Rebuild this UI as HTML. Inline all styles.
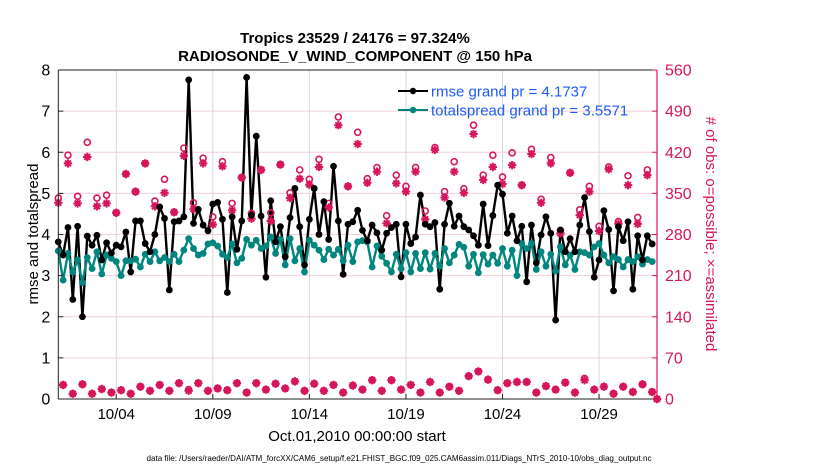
<!DOCTYPE html>
<html><head><meta charset="utf-8">
<style>
html,body{margin:0;padding:0;background:#fff;}
svg{display:block;font-family:"Liberation Sans",Arial,sans-serif;}
</style></head>
<body>
<svg id="chart" width="830" height="470" viewBox="0 0 830 470" xmlns="http://www.w3.org/2000/svg">
<text x="355" y="43" text-anchor="middle" font-size="15" font-weight="bold">Tropics 23529 / 24176 = 97.324%</text>
<text x="355" y="61" text-anchor="middle" font-size="15" font-weight="bold">RADIOSONDE_V_WIND_COMPONENT @ 150 hPa</text>
<g id="grid"></g>
<g id="series"></g>
<g id="axes"></g>
<text transform="translate(38,234) rotate(-90)" text-anchor="middle" font-size="15">rmse and totalspread</text>
<text transform="translate(706,234) rotate(90)" text-anchor="middle" font-size="15" fill="#d6165c"># of obs: o=possible; ×=assimilated</text>
<text x="357" y="441" text-anchor="middle" font-size="15">Oct.01,2010 00:00:00 start</text>
<text x="399" y="461" text-anchor="middle" font-size="8.4" textLength="505" lengthAdjust="spacingAndGlyphs">data file: /Users/raeder/DAI/ATM_forcXX/CAM6_setup/f.e21.FHIST_BGC.f09_025.CAM6assim.011/Diags_NTrS_2010-10/obs_diag_output.nc</text>
<g>
<line x1="398" y1="91" x2="428" y2="91" stroke="#000" stroke-width="2"/>
<circle cx="413" cy="91" r="3.2" fill="#000"/>
<text x="431" y="96.5" font-size="15" fill="#1d5cf5">rmse grand pr = 4.1737</text>
<line x1="398" y1="110" x2="428" y2="110" stroke="#00867f" stroke-width="2"/>
<circle cx="413" cy="110" r="3.2" fill="#00867f"/>
<text x="431" y="115.5" font-size="15" fill="#1d5cf5">totalspread grand pr = 3.5571</text>
</g>
</svg>
<script>
const NS="http://www.w3.org/2000/svg";
const startDay=0, stepDays=0.25;
const xTickDays=[3,8,13,18,23,28];
const xTickLabels=["10/04","10/09","10/14","10/19","10/24","10/29"];
const yLeftTicks=[0,1,2,3,4,5,6,7,8];
const yRightTicks=[0,70,140,210,280,350,420,490,560];
const rmse=[3.82,3.5,4.17,2.42,4.2,2.0,3.96,3.74,3.98,3.38,3.8,3.55,3.74,3.7,4.06,3.09,4.33,4.33,3.78,3.58,4.0,4.67,4.39,2.65,4.31,4.33,4.43,7.76,4.27,4.61,4.23,4.09,
4.74,4.78,4.37,2.59,4.43,3.64,4.33,7.82,4.47,6.39,4.45,2.96,4.82,3.82,4.19,3.46,4.41,5.12,4.19,3.26,4.37,5.12,4.0,4.8,3.88,5.66,4.33,3.03,4.25,4.31,4.59,
4.1,3.85,4.23,4.04,3.62,4.03,4.17,4.25,2.97,4.25,3.78,3.94,4.96,4.25,4.19,4.29,2.67,4.25,4.76,4.2,4.45,4.19,4.11,3.97,3.74,4.74,3.73,4.46,5.2,4.98,4.03,4.45,
3.85,4.2,2.85,4.23,3.31,3.99,4.43,4.03,1.92,4.11,3.58,3.9,3.58,4.23,4.9,4.07,2.96,3.38,4.58,4.12,2.63,4.19,3.85,4.31,2.67,3.97,3.38,3.97,3.77,null];
const totalspread=[3.6,2.89,3.54,3.09,3.38,2.83,3.44,3.17,3.58,3.04,3.5,3.42,3.34,3.0,3.36,3.36,3.4,3.21,3.52,3.34,3.58,3.36,3.44,3.34,3.52,3.34,3.62,3.9,3.66,3.5,3.54,3.77,
3.8,3.72,3.52,3.44,3.77,3.31,3.42,3.88,3.74,3.86,3.66,3.72,3.94,3.54,3.88,3.26,3.9,3.36,3.66,3.09,3.86,3.74,3.62,3.39,3.64,3.5,3.64,3.36,3.74,3.34,3.82,
3.85,3.82,3.21,3.72,3.47,3.3,3.09,3.52,3.17,3.56,3.09,3.54,3.17,3.56,3.16,3.54,3.23,3.66,3.31,3.5,3.76,3.69,3.23,3.52,3.07,3.51,3.28,3.5,3.3,3.66,3.23,3.62,
3.0,3.78,3.66,3.78,3.15,3.58,3.23,3.52,3.11,3.7,3.26,3.5,3.15,3.58,3.56,3.5,3.7,3.78,3.5,3.31,3.46,3.39,3.21,3.39,3.34,3.46,3.28,3.39,3.34,null];
const obsPossible=[342,24,415,9,345,25,437,9,342,17,347,11,317,15,383,9,353,21,401,14,337,24,374,14,318,27,427,16,334,27,410,14,
310,18,404,15,333,27,377,11,316,27,390,16,317,26,399,18,351,30,390,14,374,26,408,14,333,24,480,11,362,23,454,16,
375,32,394,14,312,32,381,16,362,24,394,11,320,29,428,11,353,21,404,14,358,39,466,47,381,33,415,15,378,27,419,
29,364,29,425,11,340,22,411,16,287,28,385,11,322,35,362,16,294,21,395,9,302,21,380,12,309,25,390,12,0];
const obsAssim=[334,24,401,9,333,25,412,9,328,17,333,11,317,15,383,9,353,21,401,14,328,24,351,14,318,27,414,14,323,27,401,14,
297,18,396,15,321,27,377,11,307,27,390,16,303,26,399,18,342,30,375,14,365,26,395,14,326,24,466,11,362,23,434,16,
368,32,387,14,299,32,367,16,353,24,387,11,306,29,424,11,343,21,387,14,351,39,451,47,373,33,395,15,366,27,398,
29,364,29,417,11,334,22,401,16,282,28,385,11,313,32,353,16,286,21,391,9,298,21,364,12,298,25,381,12,0];

const PL=58.3, PR=657, PT=70, PB=399, DAYS=31;
const xS=d=>PL+(d-startDay)/DAYS*(PR-PL);
const yL=v=>PB-v/8*(PB-PT);
const yR=v=>PB-v/560*(PB-PT);
const grid=document.getElementById('grid'), ser=document.getElementById('series'), axes=document.getElementById('axes');
function mk(tag,attrs,parent){const e=document.createElementNS(NS,tag);for(const k in attrs)e.setAttribute(k,attrs[k]);parent.appendChild(e);return e;}

yRightTicks.forEach(t=>{const l=mk('line',{x1:PL,x2:PR,y1:yR(t),y2:yR(t),stroke:'#f3cfdb','stroke-width':1},grid);

});
xTickDays.forEach(d=>{const l=mk('line',{x1:xS(d),x2:xS(d),y1:PT,y2:PB,stroke:'#d8d8d8','stroke-width':1},grid);

});

function linePath(arr){let d='',pen=false;arr.forEach((v,i)=>{if(v==null){pen=false;return;}const x=xS(startDay+i*stepDays),y=yL(v);d+=(pen?'L':'M')+x.toFixed(1)+' '+y.toFixed(1);pen=true;});return d;}
const pR=mk('path',{d:linePath(rmse),fill:'none',stroke:'#000','stroke-width':2.4,'stroke-linejoin':'round'},ser);


const pS=mk('path',{d:linePath(totalspread),fill:'none',stroke:'#00867f','stroke-width':2.4,'stroke-linejoin':'round'},ser);



obsPossible.forEach((v,i)=>{const c=mk('circle',{cx:xS(startDay+i*stepDays),cy:yR(v),r:3,fill:'none',stroke:'#d6165c','stroke-width':1.6},ser);

});
obsAssim.forEach((v,i)=>{const x=xS(startDay+i*stepDays),y=yR(v),s=4.2;
const d=`M${x-s} ${y}L${x+s} ${y}M${x} ${y-s}L${x} ${y+s}M${x-s*0.7} ${y-s*0.7}L${x+s*0.7} ${y+s*0.7}M${x-s*0.7} ${y+s*0.7}L${x+s*0.7} ${y-s*0.7}`;
const p=mk('path',{d:d,stroke:'#d6165c','stroke-width':2,fill:'none'},ser);

});

totalspread.forEach((v,i)=>{if(v==null)return;const c=mk('circle',{cx:xS(startDay+i*stepDays),cy:yL(v),r:3.4,fill:'#00867f'},ser);

});
rmse.forEach((v,i)=>{if(v==null)return;const c=mk('circle',{cx:xS(startDay+i*stepDays),cy:yL(v),r:3.4,fill:'#000'},ser);

});

const lf=mk('line',{x1:PL,x2:PL,y1:PT,y2:PB,stroke:'#222','stroke-width':1},axes);


const tp=mk('line',{x1:PL,x2:PR,y1:PT,y2:PT,stroke:'#222','stroke-width':1},axes);


const bt=mk('line',{x1:PL,x2:PR,y1:PB,y2:PB,stroke:'#222','stroke-width':1},axes);


const rt=mk('line',{x1:PR,x2:PR,y1:PT,y2:PB,stroke:'#d6165c','stroke-width':1.2},axes);


yLeftTicks.forEach(t=>{const t1=mk('line',{x1:PL,x2:PL+5,y1:yL(t),y2:yL(t),stroke:'#222'},axes);


const tx=mk('text',{x:PL-8,y:yL(t)+5.5,'text-anchor':'end','font-size':16},axes);tx.textContent=String(t);

});
yRightTicks.forEach(t=>{const t1=mk('line',{x1:PR-5,x2:PR,y1:yR(t),y2:yR(t),stroke:'#d6165c'},axes);


const tx=mk('text',{x:PR+8,y:yR(t)+5.5,'font-size':16,fill:'#d6165c'},axes);tx.textContent=String(t);

});
xTickDays.forEach((d,i)=>{const t1=mk('line',{x1:xS(d),x2:xS(d),y1:PB-5,y2:PB,stroke:'#222'},axes);


const tx=mk('text',{x:xS(d),y:419,'text-anchor':'middle','font-size':15},axes);tx.textContent=xTickLabels[i];

});
</script>
</body></html>
